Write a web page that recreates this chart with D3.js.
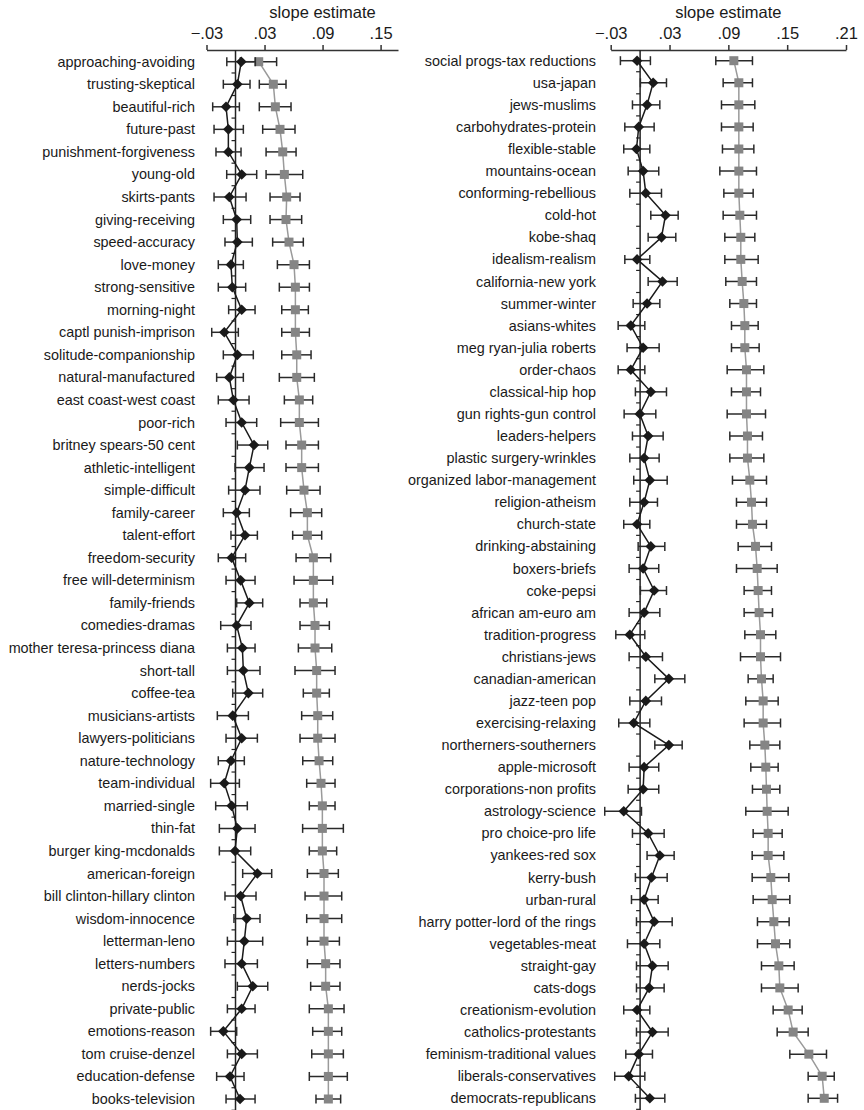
<!DOCTYPE html>
<html>
<head>
<meta charset="utf-8">
<script src="https://cdn.jsdelivr.net/npm/d3@7"></script>
<style>
  html, body { margin: 0; padding: 0; background: #fff; }
  svg { display: block; font-family: "Liberation Sans", Arial, sans-serif; }
</style>
</head>
<body>
<svg id="chart" width="864" height="1110"></svg>
<script>
// ---- Left panel ----
const leftLabels = [
  "approaching-avoiding","trusting-skeptical","beautiful-rich","future-past","punishment-forgiveness",
  "young-old","skirts-pants","giving-receiving","speed-accuracy","love-money","strong-sensitive",
  "morning-night","captl punish-imprison","solitude-companionship","natural-manufactured",
  "east coast-west coast","poor-rich","britney spears-50 cent","athletic-intelligent","simple-difficult",
  "family-career","talent-effort","freedom-security","free will-determinism","family-friends",
  "comedies-dramas","mother teresa-princess diana","short-tall","coffee-tea","musicians-artists",
  "lawyers-politicians","nature-technology","team-individual","married-single","thin-fat",
  "burger king-mcdonalds","american-foreign","bill clinton-hillary clinton","wisdom-innocence",
  "letterman-leno","letters-numbers","nerds-jocks","private-public","emotions-reason",
  "tom cruise-denzel","education-defense","books-television"
];
const leftBlack   = [0.0060,0.0019,-0.0098,-0.0074,-0.0074,0.0064,-0.0064,0.0012,0.0019,-0.0047,-0.0033,0.0064,-0.0116,0.0019,-0.0064,-0.0022,0.0064,0.0191,0.0143,0.0098,0.0012,0.0098,-0.0040,0.0053,0.0143,0.0012,0.0071,0.0081,0.0133,-0.0029,0.0064,-0.0047,-0.0116,-0.0040,0.0019,-0.0005,0.0226,0.0053,0.0115,0.0091,0.0064,0.0178,0.0064,-0.0126,0.0064,-0.0057,0.0047];
const leftBlackLo = [-0.0090,-0.0126,-0.0236,-0.0222,-0.0202,-0.0091,-0.0222,-0.0126,-0.0109,-0.0178,-0.0178,-0.0071,-0.0246,-0.0126,-0.0195,-0.0178,-0.0098,0.0019,-0.0005,-0.0071,-0.0126,-0.0047,-0.0178,-0.0098,0.0012,-0.0153,-0.0084,-0.0084,-0.0029,-0.0188,-0.0098,-0.0178,-0.0257,-0.0205,-0.0167,-0.0167,0.0074,-0.0109,-0.0016,-0.0084,-0.0109,0.0019,-0.0084,-0.0257,-0.0084,-0.0195,-0.0098];
const leftBlackHi = [0.0205,0.0150,0.0040,0.0081,0.0057,0.0219,0.0109,0.0157,0.0174,0.0081,0.0105,0.0202,0.0029,0.0184,0.0081,0.0140,0.0219,0.0333,0.0295,0.0253,0.0143,0.0226,0.0105,0.0202,0.0281,0.0160,0.0202,0.0253,0.0281,0.0133,0.0226,0.0091,0.0040,0.0122,0.0202,0.0157,0.0374,0.0212,0.0253,0.0281,0.0226,0.0333,0.0202,0.0012,0.0226,0.0088,0.0202];
const leftGray    = [0.0240,0.0391,0.0412,0.0460,0.0488,0.0505,0.0529,0.0522,0.0553,0.0605,0.0619,0.0619,0.0619,0.0633,0.0633,0.0660,0.0660,0.0684,0.0684,0.0708,0.0743,0.0743,0.0805,0.0805,0.0805,0.0822,0.0822,0.0839,0.0839,0.0850,0.0850,0.0864,0.0884,0.0898,0.0898,0.0898,0.0915,0.0915,0.0915,0.0915,0.0932,0.0932,0.0960,0.0960,0.0960,0.0960,0.0960];
const leftGrayLo  = [0.0050,0.0246,0.0246,0.0281,0.0316,0.0316,0.0357,0.0357,0.0384,0.0433,0.0453,0.0478,0.0478,0.0478,0.0453,0.0505,0.0467,0.0522,0.0522,0.0529,0.0570,0.0591,0.0626,0.0605,0.0667,0.0667,0.0650,0.0615,0.0701,0.0684,0.0667,0.0695,0.0736,0.0763,0.0694,0.0763,0.0743,0.0719,0.0736,0.0743,0.0743,0.0777,0.0763,0.0798,0.0788,0.0763,0.0832];
const leftGrayHi  = [0.0425,0.0522,0.0574,0.0615,0.0626,0.0695,0.0667,0.0684,0.0701,0.0764,0.0764,0.0753,0.0764,0.0781,0.0815,0.0798,0.0857,0.0857,0.0857,0.0874,0.0891,0.0891,0.0984,0.1005,0.0943,0.0970,0.0995,0.1029,0.0970,0.1005,0.1029,0.1005,0.1029,0.1029,0.1115,0.1046,0.1063,0.1098,0.1098,0.1074,0.1080,0.1080,0.1122,0.1098,0.1115,0.1156,0.1087];
const leftTicks = [-0.03, 0.03, 0.09, 0.15];

// ---- Right panel ----
const rightLabels = [
  "social progs-tax reductions","usa-japan","jews-muslims","carbohydrates-protein","flexible-stable",
  "mountains-ocean","conforming-rebellious","cold-hot","kobe-shaq","idealism-realism",
  "california-new york","summer-winter","asians-whites","meg ryan-julia roberts","order-chaos",
  "classical-hip hop","gun rights-gun control","leaders-helpers","plastic surgery-wrinkles",
  "organized labor-management","religion-atheism","church-state","drinking-abstaining","boxers-briefs",
  "coke-pepsi","african am-euro am","tradition-progress","christians-jews","canadian-american",
  "jazz-teen pop","exercising-relaxing","northerners-southerners","apple-microsoft",
  "corporations-non profits","astrology-science","pro choice-pro life","yankees-red sox","kerry-bush",
  "urban-rural","harry potter-lord of the rings","vegetables-meat","straight-gay","cats-dogs",
  "creationism-evolution","catholics-protestants","feminism-traditional values",
  "liberals-conservatives","democrats-republicans"
];
const rightBlack   = [-0.0031,0.0133,0.0071,-0.0014,-0.0037,0.0031,0.0058,0.0259,0.0218,-0.0031,0.0228,0.0071,-0.0095,0.0031,-0.0095,0.0109,-0.0003,0.0082,0.0041,0.0099,0.0041,-0.0031,0.0109,0.0031,0.0143,0.0041,-0.0105,0.0058,0.0293,0.0058,-0.0065,0.0293,0.0041,0.0031,-0.0167,0.0082,0.0201,0.0116,0.0041,0.0143,0.0041,0.0126,0.0092,-0.0031,0.0126,-0.0014,-0.0116,0.0099];
const rightBlackLo = [-0.0201,0.0003,-0.0078,-0.0156,-0.0167,-0.0122,-0.0105,0.0109,0.0082,-0.0156,0.0082,-0.0071,-0.0224,-0.0133,-0.0224,-0.0048,-0.0163,-0.0078,-0.0105,-0.0065,-0.0105,-0.0167,-0.0020,-0.0112,0.0003,-0.0112,-0.0248,-0.0112,0.0150,-0.0105,-0.0218,0.0150,-0.0112,-0.0122,-0.0361,-0.0078,0.0071,-0.0048,-0.0088,-0.0037,-0.0129,-0.0037,-0.0037,-0.0167,-0.0037,-0.0146,-0.0259,-0.0048];
const rightBlackHi = [0.0105,0.0269,0.0201,0.0143,0.0099,0.0190,0.0218,0.0388,0.0364,0.0099,0.0378,0.0201,0.0048,0.0194,0.0048,0.0269,0.0160,0.0235,0.0194,0.0276,0.0177,0.0099,0.0252,0.0190,0.0269,0.0201,0.0048,0.0228,0.0456,0.0218,0.0099,0.0429,0.0190,0.0190,0.0014,0.0245,0.0347,0.0276,0.0184,0.0327,0.0201,0.0286,0.0245,0.0099,0.0286,0.0126,0.0048,0.0252];
const rightGray    = [0.0956,0.1007,0.1007,0.1007,0.1007,0.1007,0.1007,0.1017,0.1027,0.1027,0.1041,0.1058,0.1068,0.1068,0.1085,0.1085,0.1085,0.1095,0.1095,0.1119,0.1136,0.1146,0.1177,0.1194,0.1204,0.1214,0.1228,0.1228,0.1238,0.1255,0.1255,0.1272,0.1282,0.1289,0.1296,0.1306,0.1306,0.1333,0.1347,0.1364,0.1381,0.1415,0.1425,0.1510,0.1561,0.1721,0.1857,0.1878];
const rightGrayLo  = [0.0772,0.0847,0.0830,0.0830,0.0840,0.0813,0.0854,0.0847,0.0864,0.0864,0.0874,0.0915,0.0932,0.0932,0.0888,0.0932,0.0888,0.0915,0.0915,0.0942,0.0983,0.0983,0.1000,0.0983,0.1061,0.1061,0.1068,0.1024,0.1102,0.1078,0.1061,0.1119,0.1129,0.1146,0.1078,0.1153,0.1143,0.1143,0.1153,0.1197,0.1197,0.1238,0.1238,0.1357,0.1398,0.1527,0.1714,0.1714];
const rightGrayHi  = [0.1146,0.1146,0.1170,0.1153,0.1160,0.1187,0.1153,0.1187,0.1170,0.1204,0.1187,0.1187,0.1204,0.1214,0.1262,0.1228,0.1279,0.1248,0.1262,0.1289,0.1289,0.1289,0.1340,0.1398,0.1340,0.1350,0.1384,0.1432,0.1357,0.1408,0.1432,0.1425,0.1408,0.1425,0.1510,0.1449,0.1466,0.1517,0.1527,0.1520,0.1527,0.1571,0.1612,0.1653,0.1714,0.1901,0.1980,0.2014];
const rightTicks = [-0.03, 0.03, 0.09, 0.15, 0.21];

const axisTitle = "slope estimate";

const svg = d3.select("#chart");

function drawPanel(cfg) {
  const g = svg.append("g");
  const x = d3.scaleLinear().domain(cfg.domain).range(cfg.xRange);
  const y = d3.scalePoint().domain(cfg.labels).range(cfg.yRange);
  const step = y.step();
  const axisY = 50;
  const bottom = 1110;

  // top axis
  const axis = d3.axisTop(x).tickValues(cfg.ticks)
    .tickFormat(d => d3.format(".2f")(d).replace("0.", ".").replace("-", "\u2013"))
    .tickSizeInner(5).tickSizeOuter(0);
  const ax = g.append("g").attr("transform", `translate(0,${axisY})`).call(axis);
  ax.select(".domain").attr("stroke", "#333").attr("stroke-width", 1.5);
  ax.selectAll(".tick line").attr("stroke", "#333").attr("stroke-width", 1.5);
  ax.selectAll(".tick text")
    .attr("fill", "#1a1a1a").attr("font-size", 16.5).attr("y", -11)
    .style("font-family", "'Liberation Sans', Arial, sans-serif");

  g.append("text")
    .attr("x", x(0.09)).attr("y", 18)
    .attr("text-anchor", "middle").attr("font-size", 16.5).attr("fill", "#1a1a1a")
    .text(axisTitle);

  // zero reference line with row separators
  g.append("line")
    .attr("x1", x(0)).attr("x2", x(0)).attr("y1", axisY).attr("y2", bottom)
    .attr("stroke", "#222").attr("stroke-width", 1.5);
  g.selectAll("line.sep").data(cfg.labels).join("line")
    .attr("class", "sep")
    .attr("x1", x(0) - 4).attr("x2", x(0))
    .attr("y1", d => y(d) + step / 2).attr("y2", d => y(d) + step / 2)
    .attr("stroke", "#222").attr("stroke-width", 1.2);

  // category labels
  g.selectAll("text.lab").data(cfg.labels).join("text")
    .attr("class", "lab")
    .attr("x", cfg.labelX).attr("y", d => y(d)).attr("dy", "0.35em")
    .attr("text-anchor", "end").attr("font-size", 14.4).attr("fill", "#1a1a1a")
    .text(d => d);

  const series = [
    { est: cfg.gray,  lo: cfg.grayLo,  hi: cfg.grayHi,  line: "#9a9a9a", fill: "#858585", shape: "square" },
    { est: cfg.black, lo: cfg.blackLo, hi: cfg.blackHi, line: "#1a1a1a", fill: "#1a1a1a", shape: "diamond" }
  ];

  series.forEach(s => {
    const pts = cfg.labels.map((lab, i) => ({ lab, v: s.est[i], lo: s.lo[i], hi: s.hi[i] }));

    // connecting line
    g.append("path").datum(pts)
      .attr("fill", "none").attr("stroke", s.line).attr("stroke-width", 1.5)
      .attr("d", d3.line().x(d => x(d.v)).y(d => y(d.lab)));

    // error bars
    const eb = g.append("g").attr("stroke", "#2a2a2a").attr("stroke-width", 1.5);
    eb.selectAll("line.bar").data(pts).join("line").attr("class", "bar")
      .attr("x1", d => x(d.lo)).attr("x2", d => x(d.hi))
      .attr("y1", d => y(d.lab)).attr("y2", d => y(d.lab));
    eb.selectAll("line.capl").data(pts).join("line").attr("class", "capl")
      .attr("x1", d => x(d.lo)).attr("x2", d => x(d.lo))
      .attr("y1", d => y(d.lab) - 4.5).attr("y2", d => y(d.lab) + 4.5);
    eb.selectAll("line.caph").data(pts).join("line").attr("class", "caph")
      .attr("x1", d => x(d.hi)).attr("x2", d => x(d.hi))
      .attr("y1", d => y(d.lab) - 4.5).attr("y2", d => y(d.lab) + 4.5);

    // markers
    if (s.shape === "square") {
      g.selectAll(null).data(pts).join("rect")
        .attr("x", d => x(d.v) - 4.5).attr("y", d => y(d.lab) - 4.5)
        .attr("width", 9).attr("height", 9).attr("fill", s.fill);
    } else {
      const sym = d3.symbol().type(d3.symbolDiamond2).size(72);
      g.selectAll(null).data(pts).join("path")
        .attr("transform", d => `translate(${x(d.v)},${y(d.lab)})`)
        .attr("d", sym).attr("fill", s.fill);
    }
  });
}

drawPanel({
  labels: leftLabels, black: leftBlack, blackLo: leftBlackLo, blackHi: leftBlackHi,
  gray: leftGray, grayLo: leftGrayLo, grayHi: leftGrayHi, ticks: leftTicks,
  domain: [-0.03, 0.168], xRange: [206.5, 398], yRange: [61.7, 1099], labelX: 195
});
drawPanel({
  labels: rightLabels, black: rightBlack, blackLo: rightBlackLo, blackHi: rightBlackHi,
  gray: rightGray, grayLo: rightGrayLo, grayHi: rightGrayHi, ticks: rightTicks,
  domain: [-0.03, 0.21], xRange: [610.7, 846], yRange: [60.7, 1098.3], labelX: 596
});
</script>
</body>
</html>
